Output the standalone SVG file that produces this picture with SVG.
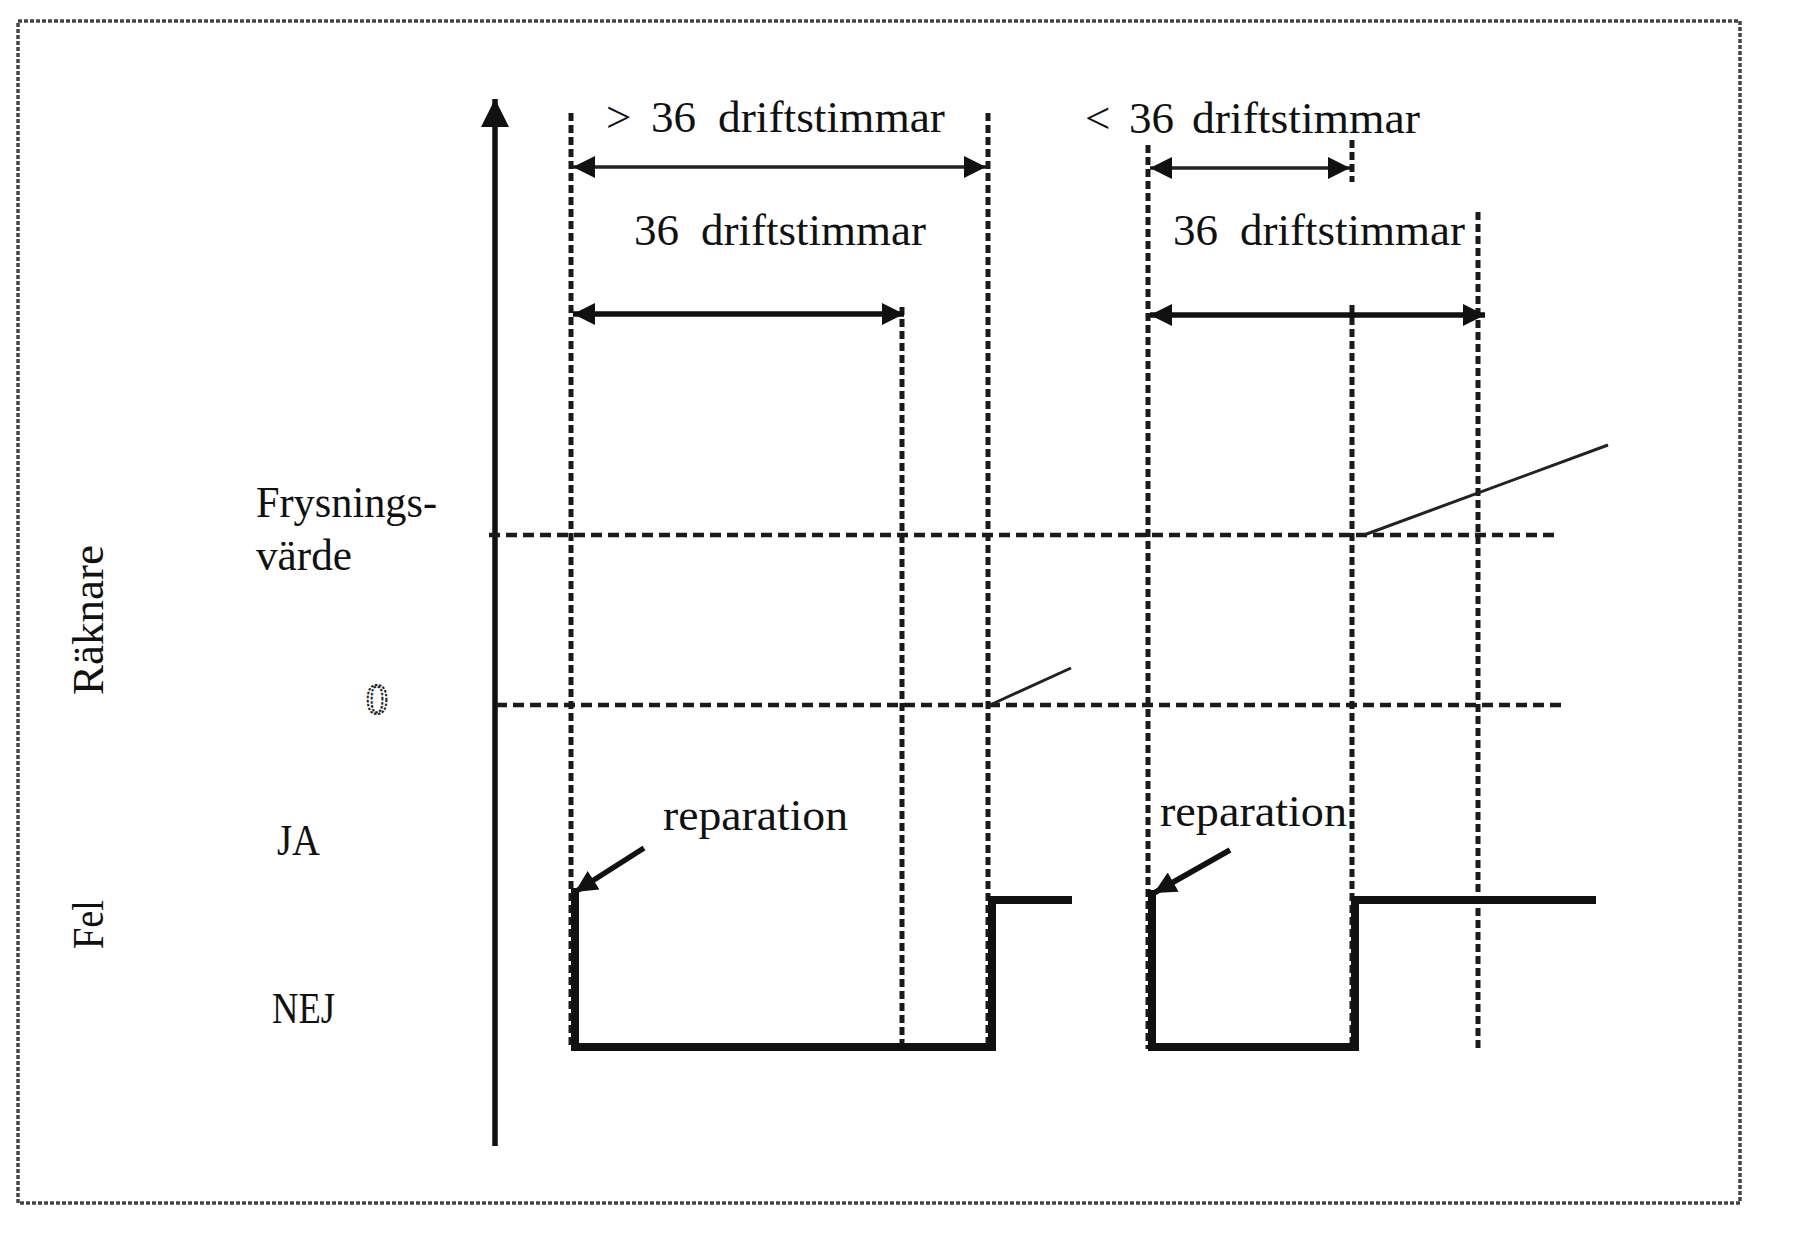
<svg xmlns="http://www.w3.org/2000/svg" width="1797" height="1246" viewBox="0 0 1797 1246">
<style>
  text { font-family: "Liberation Serif", "DejaVu Serif", serif; font-size: 45px; fill: #111; }
  .grid { stroke: #1a1a1a; stroke-width: 5; stroke-dasharray: 8 4; fill: none; }
  .hgrid { stroke: #1a1a1a; stroke-width: 4.5; stroke-dasharray: 11 6; fill: none; }
  .dimthin { stroke: #222; stroke-width: 3.5; fill: none; }
  .dimthick { stroke: #111; stroke-width: 5.5; fill: none; }
  .signal { stroke: #111; stroke-width: 8; fill: none; stroke-linejoin: miter; stroke-linecap: square; }
  .lead { stroke: #222; stroke-width: 3; fill: none; }
</style>
<defs>
  <marker id="ah" viewBox="0 0 10 10" refX="10" refY="5" markerUnits="userSpaceOnUse" markerWidth="28" markerHeight="22" orient="auto-start-reverse">
    <path d="M0,0 L10,5 L0,10 z" fill="#111"/>
  </marker>
  <marker id="axisHead" viewBox="0 0 10 10" refX="10" refY="5" markerUnits="userSpaceOnUse" markerWidth="28" markerHeight="28" orient="auto">
    <path d="M0,0 L10,5 L0,10 z" fill="#111"/>
  </marker>
  <marker id="smallHead" viewBox="0 0 10 10" refX="10" refY="5" markerUnits="userSpaceOnUse" markerWidth="26" markerHeight="22" orient="auto">
    <path d="M0,0 L10,5 L0,10 z" fill="#111"/>
  </marker>
</defs>
<rect width="1797" height="1246" fill="#fff"/>
<rect id="frame" x="18" y="21" width="1722" height="1182" fill="none" stroke="#444" stroke-width="3.5" stroke-dasharray="4 2"/>

<g id="connectors">
  <!-- y axis -->
  <line x1="495" y1="1146" x2="495" y2="99" stroke="#111" stroke-width="5.5" marker-end="url(#axisHead)"/>
  <!-- vertical dashed lines -->
  <line class="grid" x1="571" y1="113" x2="571" y2="1049"/>
  <line class="grid" x1="902" y1="307" x2="902" y2="1043"/>
  <line class="grid" x1="988" y1="113" x2="988" y2="1049"/>
  <line class="grid" x1="1148" y1="145" x2="1148" y2="1049"/>
  <line class="grid" x1="1352" y1="140" x2="1352" y2="182"/>
  <line class="grid" x1="1352" y1="305" x2="1352" y2="1049"/>
  <line class="grid" x1="1478" y1="212" x2="1478" y2="1049"/>
  <!-- horizontal dashed lines -->
  <line class="hgrid" x1="489" y1="535" x2="1559" y2="535"/>
  <line class="hgrid" x1="496" y1="705" x2="1564" y2="705"/>
  <!-- dimension arrows -->
  <line class="dimthin" x1="573" y1="167" x2="986" y2="167" marker-start="url(#ah)" marker-end="url(#ah)"/>
  <line class="dimthin" x1="1150" y1="168" x2="1350" y2="168" marker-start="url(#ah)" marker-end="url(#ah)"/>
  <line class="dimthick" x1="573" y1="314" x2="904" y2="314" marker-start="url(#ah)" marker-end="url(#ah)"/>
  <line class="dimthick" x1="1150" y1="315" x2="1485" y2="315" marker-start="url(#ah)" marker-end="url(#ah)"/>
  <!-- lead lines -->
  <line class="lead" x1="1364" y1="535" x2="1608" y2="445"/>
  <line class="lead" x1="990" y1="705" x2="1071" y2="668"/>
  <!-- repair arrows -->
  <line x1="644" y1="848" x2="575" y2="892" stroke="#111" stroke-width="5.5" marker-end="url(#smallHead)"/>
  <line x1="1230" y1="850" x2="1154" y2="893" stroke="#111" stroke-width="5.5" marker-end="url(#smallHead)"/>
  <!-- fault signals -->
  <path class="signal" d="M575,892 L575,1047 L992,1047 L992,900 L1068,900"/>
  <path class="signal" d="M1152,894 L1152,1047 L1355,1047 L1355,900 L1592,900"/>
</g>

<g id="label-gt36">
  <text x="606" y="132">&gt;</text>
  <text x="651" y="132">36</text>
  <text x="718" y="132" textLength="227" lengthAdjust="spacingAndGlyphs">driftstimmar</text>
</g>
<g id="label-lt36">
  <text x="1085" y="133">&lt;</text>
  <text x="1129" y="133">36</text>
  <text x="1192" y="133" textLength="228" lengthAdjust="spacingAndGlyphs">driftstimmar</text>
</g>
<g id="label-36a">
  <text x="634" y="245">36</text>
  <text x="701" y="245" textLength="225" lengthAdjust="spacingAndGlyphs">driftstimmar</text>
</g>
<g id="label-36b">
  <text x="1173" y="245">36</text>
  <text x="1240" y="245" textLength="225" lengthAdjust="spacingAndGlyphs">driftstimmar</text>
</g>
<g id="label-frys">
  <text x="256" y="517" textLength="181" lengthAdjust="spacingAndGlyphs">Frysnings-</text>
  <text x="256" y="570" textLength="96" lengthAdjust="spacingAndGlyphs">värde</text>
</g>
<g id="label-raknare">
  <text transform="translate(103,695) rotate(-90)" textLength="150" lengthAdjust="spacingAndGlyphs">Räknare</text>
</g>
<g id="label-fel">
  <text transform="translate(103,949) rotate(-90)" textLength="49" lengthAdjust="spacingAndGlyphs">Fel</text>
</g>
<g id="label-zero">
  <text x="377" y="714" text-anchor="middle" style="font-size:44px;fill:#fff;stroke:#222;stroke-width:2;stroke-dasharray:2.5 1.5">0</text>
</g>
<g id="label-ja">
  <text x="277" y="855" textLength="43" lengthAdjust="spacingAndGlyphs">JA</text>
</g>
<g id="label-nej">
  <text x="272" y="1023" textLength="63" lengthAdjust="spacingAndGlyphs">NEJ</text>
</g>
<g id="label-rep1">
  <text x="663" y="830" textLength="185" lengthAdjust="spacingAndGlyphs">reparation</text>
</g>
<g id="label-rep2">
  <text x="1160" y="826" textLength="187" lengthAdjust="spacingAndGlyphs">reparation</text>
</g>
</svg>
